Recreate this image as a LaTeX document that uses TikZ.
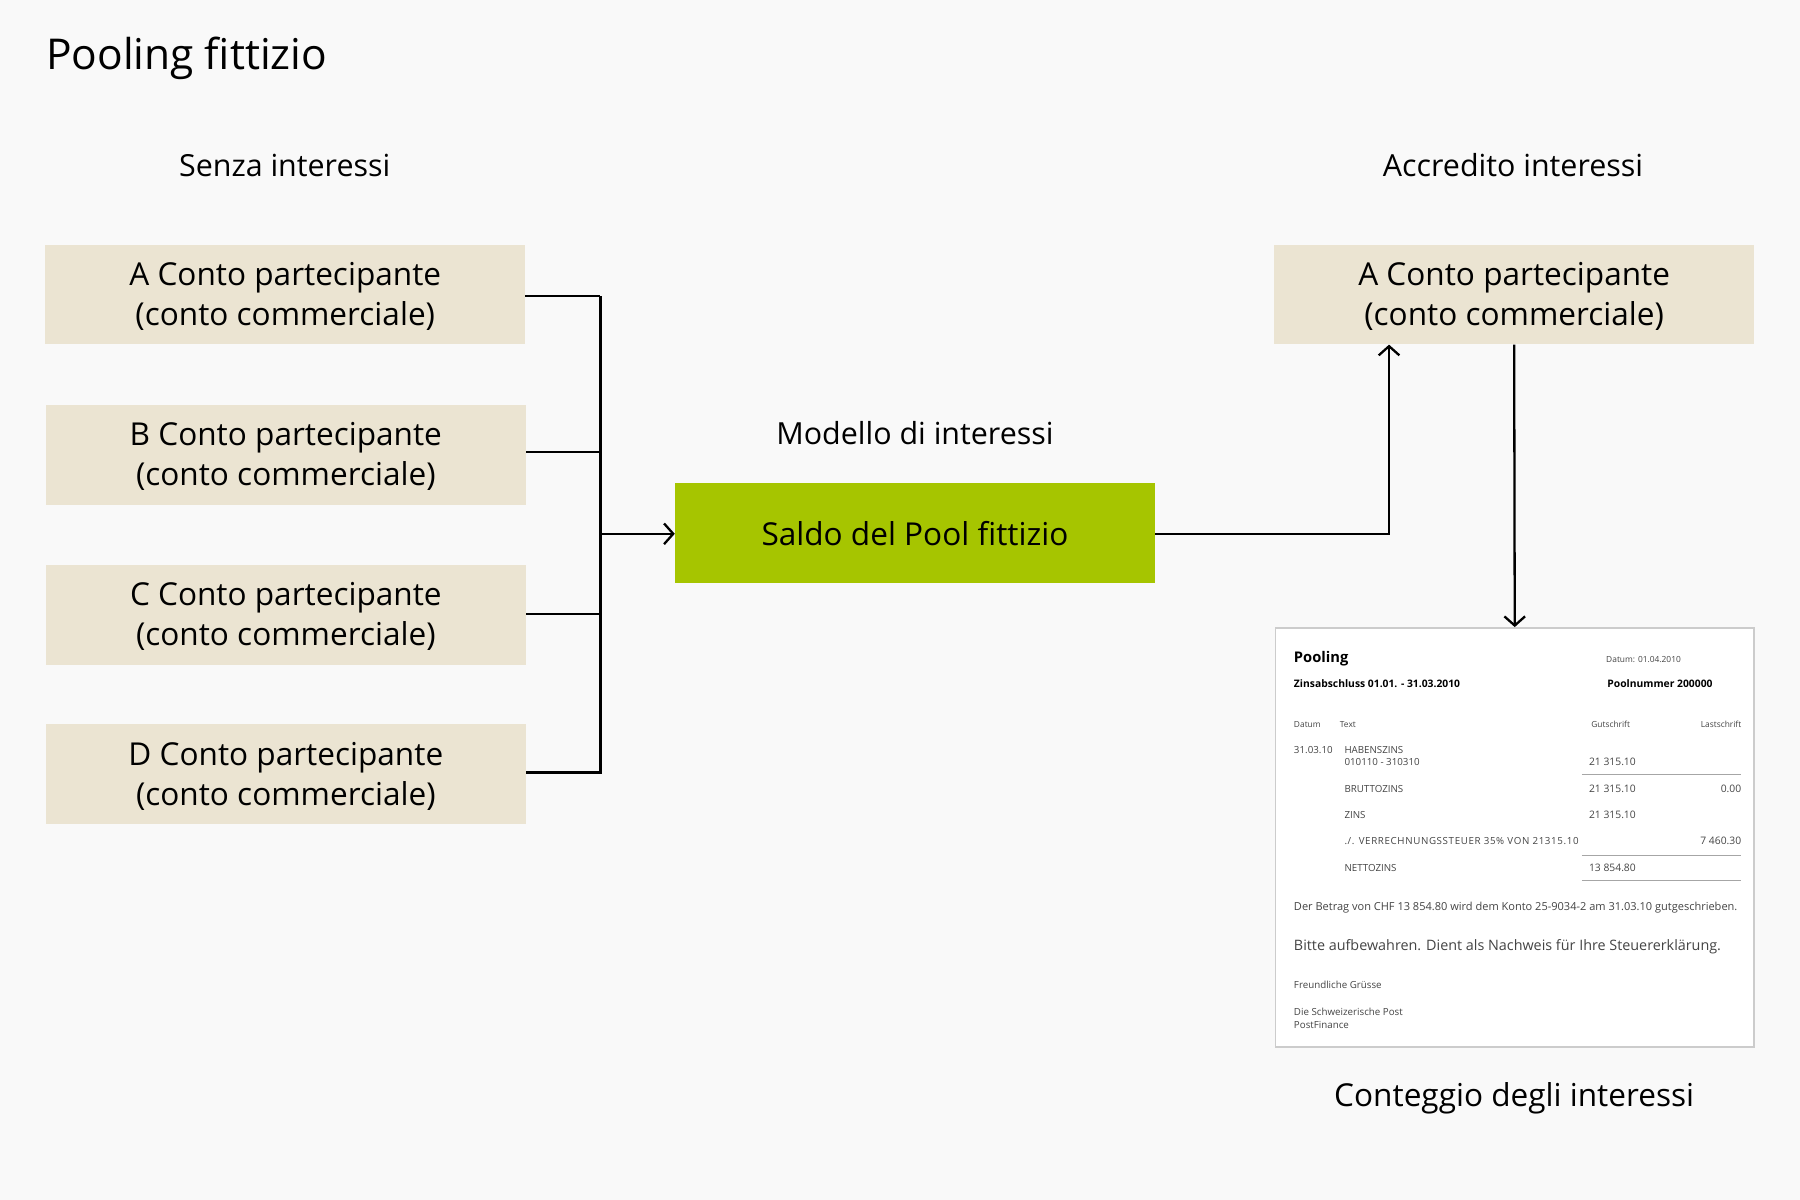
\documentclass[tikz,border=0pt]{standalone}
\usepackage{fontspec}
\setmainfont{Open Sans}
\usetikzlibrary{arrows.meta}
\definecolor{bgc}{HTML}{F9F9F9}
\definecolor{beige}{HTML}{EBE4D2}
\definecolor{lime}{HTML}{A6C500}
\definecolor{docline}{HTML}{CCCCCC}
\definecolor{doctext}{HTML}{444444}
\tikzset{
  acct/.style={fill=beige, minimum width=418pt, minimum height=87pt, inner sep=0pt, align=center, text depth=0.8pt, font=\fontsize{27.5}{35}\selectfont},
  pool/.style={fill=lime, minimum width=418pt, minimum height=87pt, inner sep=0pt, align=center, font=\fontsize{27.5}{35}\selectfont},
  lbl/.style={inner sep=0pt, font=\fontsize{26.5}{35}\selectfont},
  conn/.style={line width=2pt, black},
  arr/.style={conn, -{Straight Barb[length=8pt,width=18pt,line width=2pt]}},
  dt/.style={inner sep=0pt, anchor=base west, text=doctext, font=\fontsize{8.5}{10}\selectfont},
  dtr/.style={dt, anchor=base east},
  dtb/.style={dt, text=black, font=\fontsize{9}{10}\selectfont\bfseries},
  rule/.style={line width=1pt, draw=gray!70}
}
\begin{document}
\begin{tikzpicture}[x=1pt,y=-1pt]
\useasboundingbox (0,0) rectangle (1568,1045);
\fill[bgc] (0,0) rectangle (1568,1045);

\node[lbl, anchor=west, font=\fontsize{37}{42}\selectfont] (title) at (40,51) {Pooling fittizio};
\node[lbl] (senza) at (248,144) {Senza interessi};
\node[lbl] (accr) at (1318,144) {Accredito interessi};
\node[lbl] (modello) at (797,377) {Modello di interessi};
\node[lbl, font=\fontsize{27.5}{35}\selectfont] (conteggio) at (1319,957) {Conteggio degli interessi};

\node[acct] (a) at (248.5,256.5) {A Conto partecipante\\(conto commerciale)};
\node[acct] (b) at (249,396) {B Conto partecipante\\(conto commerciale)};
\node[acct] (c) at (249,535.5) {C Conto partecipante\\(conto commerciale)};
\node[acct] (d) at (249,674.5) {D Conto partecipante\\(conto commerciale)};
\node[acct] (ra) at (1319,256.5) {A Conto partecipante\\(conto commerciale)};
\node[pool] (saldo) at (797,464.5) {Saldo del Pool fittizio};

\coordinate (j) at (523,465);
\draw[conn] (a.east |- 0,258) -| (523,258);
\draw[conn] (b.east |- 0,394) -- (523,394);
\draw[conn] (c.east |- 0,535) -- (523,535);
\draw[conn] (d.east |- 0,673) -| (523,258);
\draw[arr] (j) -- (saldo.west |- j);
\draw[arr] (saldo.east |- 0,465) -| (ra.south -| 1210,0);

% document
\node[draw=docline, line width=1.5pt, fill=white, minimum width=417pt, minimum height=365pt, inner sep=0pt] (doc) at (1319.5,729.5) {};
\draw[arr] (ra.south) -- (doc.north);

\node[dtb, font=\fontsize{12.8}{14}\selectfont\bfseries] (t1) at (1127,577) {Pooling};
\node[dt, font=\fontsize{7.3}{9}\selectfont] (t2) at (1399,577) {Datum: 01.04.2010};
\node[dtb] (t3) at (1127,599) {Zinsabschluss 01.01. - 31.03.2010};
\node[dtb] (t4) at (1400,599) {Poolnummer 200000};
\node[dt, font=\fontsize{7.3}{9}\selectfont] (h1) at (1127,634) {Datum};
\node[dt, font=\fontsize{7.3}{9}\selectfont] (h2) at (1167,634) {Text};
\node[dt, font=\fontsize{7.3}{9}\selectfont] (h3) at (1386,634) {Gutschrift};
\node[dtr, font=\fontsize{7.3}{9}\selectfont] (h4) at (1517,634) {Lastschrift};
\node[dt] (r1a) at (1127,656) {31.03.10};
\node[dt] (r1b) at (1171,656) {HABENSZINS};
\node[dt] (r1c) at (1171,667) {010110 - 310310};
\node[dt, font=\fontsize{9}{10}\selectfont] (r1d) at (1384,667) {21 315.10};
\draw[rule] (1378,675) -- (1517,675);
\node[dt] (r2b) at (1171,690) {BRUTTOZINS};
\node[dt, font=\fontsize{9}{10}\selectfont] (r2d) at (1384,690) {21 315.10};
\node[dtr, font=\fontsize{9}{10}\selectfont] (r2e) at (1517,690) {0.00};
\node[dt] (r3b) at (1171,713) {ZINS};
\node[dt, font=\fontsize{9}{10}\selectfont] (r3d) at (1384,713) {21 315.10};
\node[dt, font=\fontsize{8.5}{10}\selectfont\addfontfeatures{LetterSpace=6.5}] (r4b) at (1171,736) {./. VERRECHNUNGSSTEUER 35\% VON 21315.10};
\node[dtr, font=\fontsize{9}{10}\selectfont] (r4e) at (1517,736) {7 460.30};
\draw[rule] (1378,745) -- (1517,745);
\node[dt] (r5b) at (1171,759) {NETTOZINS};
\node[dt, font=\fontsize{9}{10}\selectfont] (r5d) at (1384,759) {13 854.80};
\draw[rule] (1378,767) -- (1517,767);
\node[dt, font=\fontsize{9.6}{11}\selectfont] (p1) at (1127,793) {Der Betrag von CHF 13 854.80 wird dem Konto 25-9034-2 am 31.03.10 gutgeschrieben.};
\node[dt, font=\fontsize{12.5}{14}\selectfont] (p2) at (1127,828) {Bitte aufbewahren. Dient als Nachweis für Ihre Steuererklärung.};
\node[dt] (p3) at (1127,861) {Freundliche Grüsse};
\node[dt] (p4) at (1127,885) {Die Schweizerische Post};
\node[dt] (p5) at (1127,896) {PostFinance};
\end{tikzpicture}
\end{document}
